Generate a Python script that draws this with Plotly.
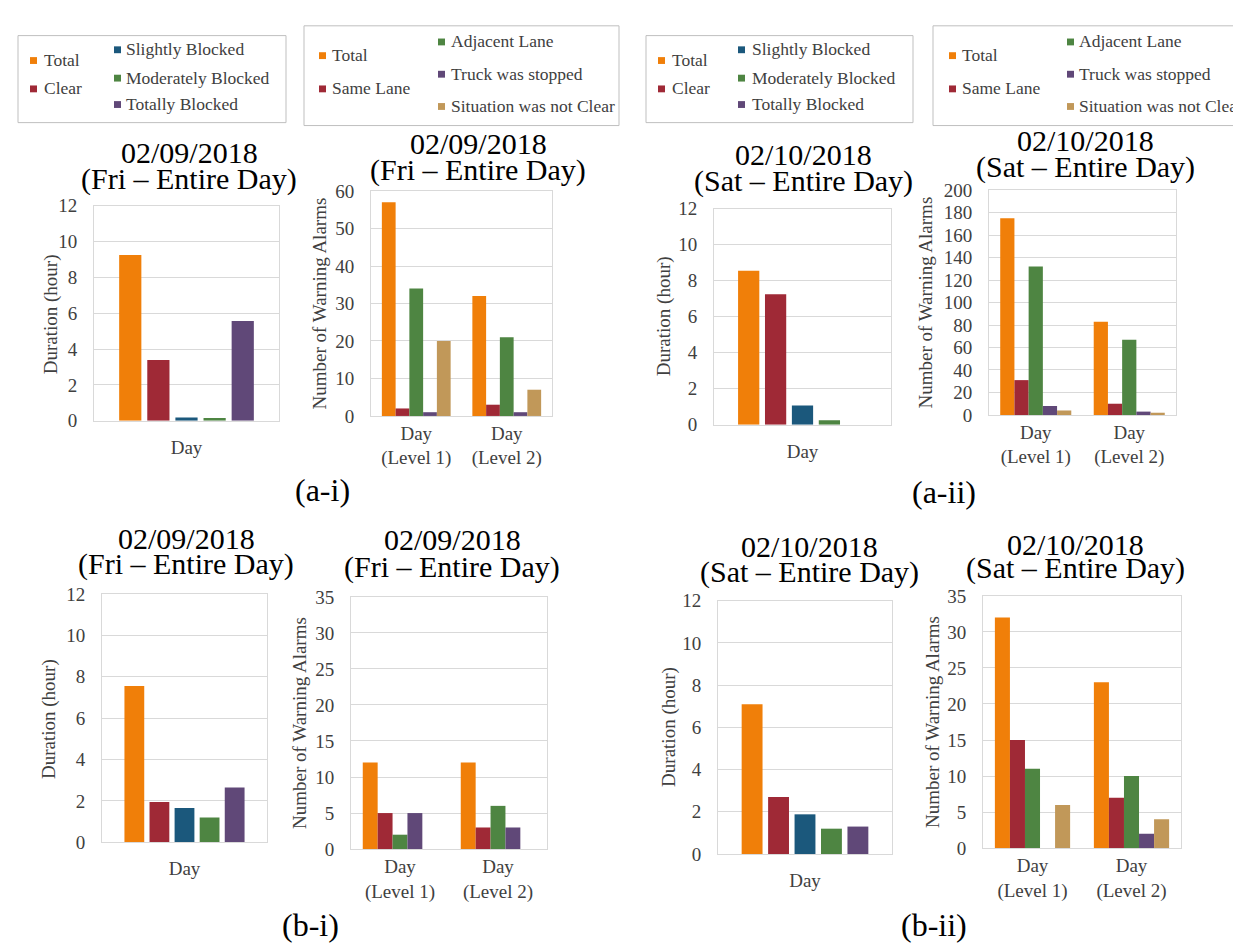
import plotly.graph_objects as go

W, H = 1241, 945

# ---------------- data ----------------
dur_series = ["Total", "Clear", "Slightly Blocked", "Moderately Blocked", "Totally Blocked"]
alarm_series = ["Total", "Same Lane", "Adjacent Lane", "Truck was stopped", "Situation was not Clear"]
dur_category = ["Day"]
alarm_categories = ["Day<br>(Level 1)", "Day<br>(Level 2)"]

# duration (hour) per series
dur_fri_a = [9.25, 3.4, 0.18, 0.16, 5.57]
dur_sat_a = [8.55, 7.25, 1.07, 0.25, 0.0]
dur_fri_b = [7.55, 1.95, 1.65, 1.2, 2.65]
dur_sat_b = [7.1, 2.7, 1.88, 1.2, 1.3]

# number of warning alarms per series: Level 1, Level 2
alarm_fri_a_lv1 = [57, 2, 34, 1, 20]
alarm_fri_a_lv2 = [32, 3, 21, 1, 7]
alarm_sat_a_lv1 = [175, 31, 132, 8, 4]
alarm_sat_a_lv2 = [83, 10, 67, 3, 2]
alarm_fri_b_lv1 = [12, 5, 2, 5, 0]
alarm_fri_b_lv2 = [12, 3, 6, 3, 0]
alarm_sat_b_lv1 = [32, 15, 11, 0, 6]
alarm_sat_b_lv2 = [23, 7, 10, 2, 4]

title_fri = ["02/09/2018", "(Fri \u2013 Entire Day)"]
title_sat = ["02/10/2018", "(Sat \u2013 Entire Day)"]
dur_axis_title = "Duration (hour)"
alarm_axis_title = "Number of Warning Alarms"
panel_tags = ["(a-i)", "(a-ii)", "(b-i)", "(b-ii)"]

# ---------------- style ----------------
dur_colors = ["#F07F09", "#9F2936", "#1B587C", "#4E8542", "#604878"]
alarm_colors = ["#F07F09", "#9F2936", "#4E8542", "#604878", "#C19859"]
FONT = "Liberation Serif, Times New Roman, serif"
GRID = "#D9D9D9"
TXT = "#404040"


def px(x):
    return x / W


def py(y):
    return 1 - y / H


# chart specs: kind, box (left, right, top, bottom), y range max, dtick, title, title pos, axis-title pos
charts = [
    dict(kind="dur", vals=dur_fri_a, box=(86, 271, 192, 412), ymax=12, dtick=2, title=title_fri,
         tpos=(181, 138, 165), apos=(43, 303)),
    dict(kind="alarm", vals=(alarm_fri_a_lv1, alarm_fri_a_lv2), box=(363, 544, 177, 407), ymax=60, dtick=10,
         title=title_fri, tpos=(470, 128, 155), apos=(312, 292)),
    dict(kind="dur", vals=dur_sat_a, box=(706, 883, 195, 416), ymax=12, dtick=2, title=title_sat,
         tpos=(795, 140, 167), apos=(656, 305)),
    dict(kind="alarm", vals=(alarm_sat_a_lv1, alarm_sat_a_lv2), box=(981, 1168, 176, 406), ymax=200, dtick=20,
         title=title_sat, tpos=(1077, 125, 152), apos=(918, 291)),
    dict(kind="dur", vals=dur_fri_b, box=(94, 259, 589, 843), ymax=12, dtick=2, title=title_fri,
         tpos=(178, 532, 558), apos=(41, 717)),
    dict(kind="alarm", vals=(alarm_fri_b_lv1, alarm_fri_b_lv2), box=(343, 539, 592, 850), ymax=35, dtick=5,
         title=title_fri, tpos=(444, 533, 561), apos=(292, 721)),
    dict(kind="dur", vals=dur_sat_b, box=(710, 884, 596, 855), ymax=12, dtick=2, title=title_sat,
         tpos=(801, 540, 567), apos=(661, 725)),
    dict(kind="alarm", vals=(alarm_sat_b_lv1, alarm_sat_b_lv2), box=(975, 1173, 591, 849), ymax=35, dtick=5,
         title=title_sat, tpos=(1067, 538, 563), apos=(924, 720)),
]

fig = go.Figure()
layout = dict(
    width=W, height=H, autosize=False,
    margin=dict(l=0, r=0, t=0, b=0),
    paper_bgcolor="white", plot_bgcolor="white",
    showlegend=False, barmode="group", bargap=0.24, bargroupgap=0.0,
    font=dict(family=FONT, color=TXT, size=19),
)
annotations = []
shapes = []

for k, c in enumerate(charts, start=1):
    xa = "x" if k == 1 else f"x{k}"
    ya = "y" if k == 1 else f"y{k}"
    l, r, t, b = c["box"]
    if c["kind"] == "dur":
        for i, s in enumerate(dur_series):
            fig.add_trace(go.Bar(x=dur_category, y=[c["vals"][i]], name=s, width=0.12,
                                 marker=dict(color=dur_colors[i], line=dict(width=0)),
                                 xaxis=xa, yaxis=ya))
        xstand = 9
        atitle = dur_axis_title
    else:
        lv1, lv2 = c["vals"]
        for i, s in enumerate(alarm_series):
            fig.add_trace(go.Bar(x=alarm_categories, y=[lv1[i], lv2[i]], name=s,
                                 marker=dict(color=alarm_colors[i], line=dict(width=0)),
                                 xaxis=xa, yaxis=ya))
        xstand = 0
        atitle = alarm_axis_title
    layout["xaxis" if k == 1 else f"xaxis{k}"] = dict(
        domain=[px(l), px(r)], anchor=ya, type="category",
        showline=True, mirror=True, linecolor=GRID, linewidth=1,
        showgrid=False, zeroline=False, ticks="", ticklabelstandoff=xstand,
        tickfont=dict(family=FONT, size=19, color=TXT), fixedrange=True,
    )
    layout["yaxis" if k == 1 else f"yaxis{k}"] = dict(
        domain=[py(b), py(t)], anchor=xa, range=[0, c["ymax"]], dtick=c["dtick"],
        showline=True, mirror=True, linecolor=GRID, linewidth=1,
        showgrid=True, gridcolor=GRID, gridwidth=1, zeroline=False, ticks="",
        ticklabelstandoff=12, tickfont=dict(family=FONT, size=19, color=TXT), fixedrange=True,
    )
    tx, ty1, ty2 = c["tpos"]
    for line, yy in zip(c["title"], (ty1, ty2)):
        annotations.append(dict(text=line, x=px(tx), y=py(yy), xref="paper", yref="paper",
                                xanchor="center", yanchor="middle", showarrow=False,
                                font=dict(family=FONT, size=30, color="black")))
    ax, ay = c["apos"]
    annotations.append(dict(text=atitle, x=px(ax), y=py(ay), xref="paper", yref="paper",
                            xanchor="center", yanchor="middle", showarrow=False, textangle=-90,
                            font=dict(family=FONT, size=19, color=TXT)))

# panel tags
for tag, (tx, ty) in zip(panel_tags, [(314, 483), (936, 485), (302, 928), (926, 928)]):
    annotations.append(dict(text=tag, x=px(tx), y=py(ty), xref="paper", yref="paper",
                            xanchor="center", yanchor="middle", showarrow=False,
                            font=dict(family=FONT, size=32, color="black")))

# legend boxes: box, column-1 (swatch x, text x, rows), column-2 (swatch x, text x, rows)
legend_boxes = [
    dict(labels=dur_series, colors=dur_colors, box=(10, 278, 18, 107),
         c1=(22, 34, [43, 72]), c2=(106, 116, [32, 61, 88])),
    dict(labels=alarm_series, colors=alarm_colors, box=(296, 611, 8, 110),
         c1=(311, 322, [38, 72]), c2=(430, 441, [24, 57, 90])),
    dict(labels=dur_series, colors=dur_colors, box=(638, 905, 18, 107),
         c1=(650, 662, [43, 72]), c2=(730, 742, [32, 61, 88])),
    dict(labels=alarm_series, colors=alarm_colors, box=(925, 1239, 8, 110),
         c1=(941, 952, [38, 72]), c2=(1059, 1069, [24, 57, 90])),
]
for lg in legend_boxes:
    l, r, t, b = lg["box"]
    shapes.append(dict(type="rect", xref="paper", yref="paper", x0=px(l), x1=px(r), y0=py(b), y1=py(t),
                       line=dict(color="#BFBFBF", width=1), fillcolor="rgba(0,0,0,0)"))
    slots = [(lg["c1"], j) for j in range(2)] + [(lg["c2"], j) for j in range(3)]
    for i, ((sx, tx, rows), j) in enumerate(slots):
        yy = rows[j]
        shapes.append(dict(type="rect", xref="paper", yref="paper", x0=px(sx), x1=px(sx + 7),
                           y0=py(yy + 4), y1=py(yy - 3), line=dict(width=0), fillcolor=lg["colors"][i]))
        annotations.append(dict(text=lg["labels"][i], x=px(tx), y=py(yy), xref="paper", yref="paper",
                                xanchor="left", yanchor="middle", showarrow=False,
                                font=dict(family=FONT, size=17.5, color=TXT)))

layout["annotations"] = annotations
layout["shapes"] = shapes
fig.update_layout(**layout)
fig.write_html("out.html")
